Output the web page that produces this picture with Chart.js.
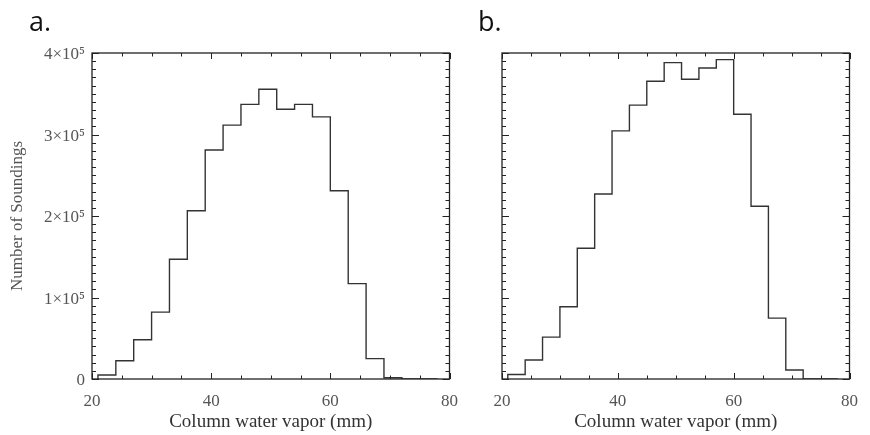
<!DOCTYPE html>
<html>
<head>
<meta charset="utf-8">
<script src="https://cdn.jsdelivr.net/npm/chart.js@4.4.1/dist/chart.umd.min.js"></script>
<style>
  html, body { margin: 0; padding: 0; background: #fff; }
  #wrap { position: relative; width: 870px; height: 435px; overflow: hidden; }
  canvas { position: absolute; top: 0; }
  .tag { position: absolute; top: 2px; font: 27px "Open Sans", sans-serif; color: #111; }
</style>
</head>
<body>
<div id="wrap">
  <canvas id="histA" width="470" height="435" style="left:0"></canvas>
  <canvas id="histB" width="400" height="435" style="left:470px"></canvas>
  <div class="tag" style="left:29px">a.</div>
  <div class="tag" style="left:478px">b.</div>
</div>
<script>
// bin edges (mm) and counts per bin
const binEdges = [21, 24, 27, 30, 33, 36, 39, 42, 45, 48, 51, 54, 57, 60, 63, 66, 69, 72, 75, 78];
const countsA = [5000, 22400, 48100, 82000, 147000, 206500, 281000, 311500, 337000, 355500,
                 331000, 337000, 321600, 231000, 117000, 25000, 1600, 0, 0];
const countsB = [5600, 23300, 51400, 88600, 160400, 227000, 304500, 336000, 365300, 388200,
                 367800, 381600, 391900, 324900, 211900, 74700, 11000, 0, 0];
const xTicks = [20, 40, 60, 80];
const yTicks = [0, 100000, 200000, 300000, 400000];

const SERIF = "'Liberation Serif', 'Times New Roman', serif";

function stepPoints(counts) {
  const pts = [{ x: binEdges[0], y: 0 }];
  counts.forEach((c, i) => pts.push({ x: binEdges[i], y: c }));
  pts.push({ x: binEdges[binEdges.length - 1], y: 0 });
  return pts;
}

function yLabel(v) {
  if (v === 0) return "0";
  return (v / 1e5) + "\u00d710\u2075";
}

// frame with inward major/minor ticks on all four sides
const frameTicks = {
  id: "frameTicks",
  afterDatasetsDraw(chart) {
    const { ctx, chartArea: a, scales: { x, y } } = chart;
    ctx.save();
    ctx.strokeStyle = "#222";
    ctx.lineWidth = 1.3;
    ctx.strokeRect(a.left, a.top, a.right - a.left, a.bottom - a.top);
    ctx.lineWidth = 1;
    ctx.beginPath();
    for (let v = 20; v <= 80; v += 5) {
      const px = Math.round(x.getPixelForValue(v)) + 0.5;
      const len = v % 20 === 0 ? 6 : 3.5;
      ctx.moveTo(px, a.bottom); ctx.lineTo(px, a.bottom - len);
      ctx.moveTo(px, a.top); ctx.lineTo(px, a.top + len);
    }
    for (let v = 0; v <= 400000; v += 10000) {
      const py = Math.round(y.getPixelForValue(v)) + 0.5;
      const len = v % 100000 === 0 ? 7 : 4;
      ctx.moveTo(a.left, py); ctx.lineTo(a.left + len, py);
      ctx.moveTo(a.right, py); ctx.lineTo(a.right - len, py);
    }
    ctx.stroke();
    ctx.restore();
  }
};

function makeHist(id, counts, showY, yWidth, padRight) {
  new Chart(document.getElementById(id), {
    type: "line",
    data: {
      datasets: [{
        data: stepPoints(counts),
        stepped: true,
        borderColor: "#333",
        borderWidth: 1.4,
        pointRadius: 0,
        fill: false,
      }],
    },
    options: {
      responsive: false,
      animation: false,
      layout: { padding: { left: 0, right: padRight, top: 53, bottom: 0 } },
      plugins: { legend: { display: false }, tooltip: { enabled: false } },
      scales: {
        x: {
          type: "linear",
          min: 20,
          max: 80,
          afterBuildTicks: s => { s.ticks = xTicks.map(v => ({ value: v })); },
          afterFit: s => { s.height = 56; },
          grid: { display: false, drawTicks: false },
          border: { display: false },
          ticks: { color: "#555", padding: 12, font: { family: SERIF, size: 17 } },
          title: {
            display: true,
            text: "Column water vapor (mm)",
            color: "#333",
            font: { family: SERIF, size: 19 },
            padding: { top: 0, bottom: 2 },
          },
        },
        y: {
          min: 0,
          max: 400000,
          afterBuildTicks: s => { s.ticks = yTicks.map(v => ({ value: v })); },
          afterFit: s => { s.width = yWidth; },
          grid: { display: false, drawTicks: false },
          border: { display: false },
          ticks: {
            display: showY,
            color: "#555",
            padding: 7,
            labelOffset: 2,
            font: { family: SERIF, size: 17 },
            callback: v => yLabel(v),
          },
          title: {
            display: showY,
            text: "Number of Soundings",
            color: "#555",
            font: { family: SERIF, size: 17 },
            padding: { top: 7, bottom: 0 },
          },
        },
      },
    },
    plugins: [frameTicks],
  });
}

makeHist("histA", countsA, true, 92, 14);
makeHist("histB", countsB, false, 32, 7);
</script>
</body>
</html>
